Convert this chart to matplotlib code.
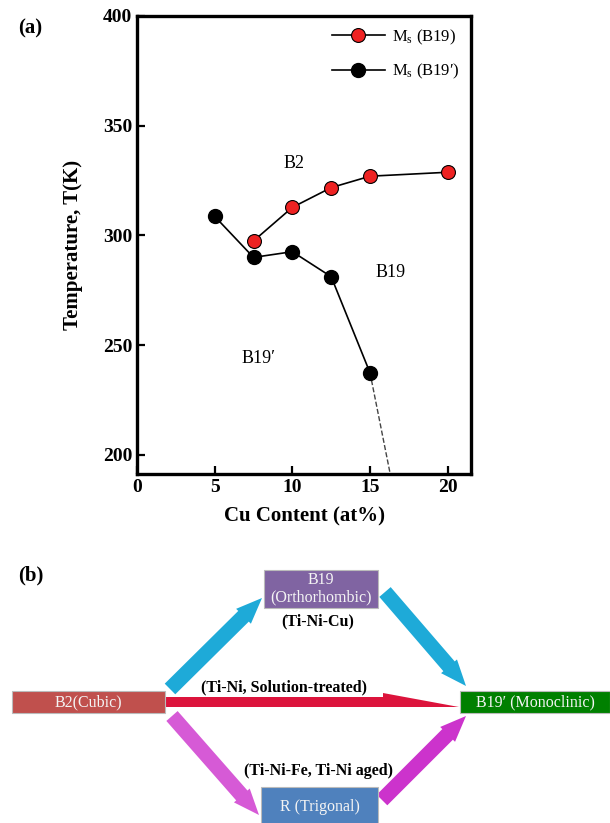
import numpy as np
import matplotlib
matplotlib.use('Agg')
import matplotlib.pyplot as plt
from matplotlib.patches import FancyArrow, Rectangle

plt.rcParams['font.family'] = ['Liberation Serif', 'DejaVu Serif']
plt.rcParams['mathtext.default'] = 'regular'

# (a) phase diagram data
cu_b19 = [7.5, 10, 12.5, 15, 20]
ms_b19 = [297.5, 312.8, 321.8, 327.0, 328.8]
cu_b19p = [5, 7.5, 10, 12.5, 15]
ms_b19p = [308.7, 290.0, 292.6, 281.2, 237.4]
cu_ext = [15, 16.3]
ms_ext = [237.4, 191.3]
x_ticks = [0, 5, 10, 15, 20]
y_ticks = [200, 250, 300, 350, 400]

# (b) transformation paths
box_labels = ['B2(Cubic)', 'B19\n(Orthorhombic)', 'B19\u2032 (Monoclinic)', 'R (Trigonal)']
path_labels = ['(Ti-Ni-Cu)', '(Ti-Ni, Solution-treated)', '(Ti-Ni-Fe, Ti-Ni aged)']

W, H = 610, 823
fig = plt.figure(figsize=(W / 100, H / 100), dpi=100)

# ---- panel (a)
ax = fig.add_axes([137 / W, (H - 474) / H, (471 - 137) / W, (474 - 16) / H])
ax.plot(cu_b19p, ms_b19p, '-o', color='black', lw=1.2, ms=10,
        mfc='black', mec='black', label='M$_{s}$ (B19\u2032)', zorder=3)
ax.plot(cu_b19, ms_b19, '-o', color='black', lw=1.2, ms=10,
        mfc='#EE2222', mec='black', mew=0.8, label='M$_{s}$ (B19)', zorder=4)
ax.plot(cu_ext, ms_ext, '--', color='#444444', lw=1.0, zorder=2)

ax.set_xlim(0, 21.5)
ax.set_ylim(191.3, 400)
ax.set_xticks(x_ticks)
ax.set_yticks(y_ticks)
for s in ['left', 'bottom', 'top', 'right']:
    ax.spines[s].set_linewidth(2.4)
ax.tick_params(direction='in', length=6, width=1.6, labelsize=14,
               top=False, right=False)
for lab in ax.get_xticklabels() + ax.get_yticklabels():
    lab.set_fontweight('bold')
ax.set_xlabel('Cu Content (at%)', fontsize=15, fontweight='bold', labelpad=8)
ax.set_ylabel('Temperature, T(K)', fontsize=15, fontweight='bold', labelpad=14)

ax.text(10.1, 333, 'B2', fontsize=13, ha='center', va='center')
ax.text(16.3, 283, 'B19', fontsize=13, ha='center', va='center')
ax.text(7.8, 244, 'B19\u2032', fontsize=13, ha='center', va='center')

h, l = ax.get_legend_handles_labels()
ax.legend(h[::-1], l[::-1], loc='upper right', frameon=False, fontsize=12,
          handlelength=3.2, handletextpad=0.4, labelspacing=0.9,
          borderaxespad=0.3)

fig.text(18 / W, 1 - 28 / H, '(a)', fontsize=15, fontweight='bold', va='center')

# ---- panel (b), drawn in pixel units
ax2 = fig.add_axes([0, 0, 1, (H - 540) / H])
ax2.set_xlim(0, W)
ax2.set_ylim(H, 540)
ax2.axis('off')

boxes = [(12, 691, 153, 22, '#C0504D'),
         (264, 570, 114, 38, '#8064A2'),
         (460, 691, 150, 22, '#008000'),
         (261, 787, 117, 40, '#4F81BD')]
for (bx, by, bw, bh, c), txt in zip(boxes, box_labels):
    ax2.add_patch(Rectangle((bx, by), bw, bh, facecolor=c, edgecolor='#BBBBBB',
                            lw=0.8, zorder=3))
    ax2.text(bx + bw / 2, by + bh / 2, txt, color='#F4F4F4', fontsize=11.5,
             ha='center', va='center', linespacing=1.1, zorder=4)


def arrow(p0, p1, color, width, hw, hl, shape='full'):
    ax2.add_patch(FancyArrow(p0[0], p0[1], p1[0] - p0[0], p1[1] - p0[1],
                             width=width, head_width=hw, head_length=hl,
                             length_includes_head=True, shape=shape,
                             color=color, lw=0, zorder=2))


arrow((170, 689), (262, 598), '#1EAAD8', 15, 21, 26)
arrow((385, 592), (466, 686), '#1EAAD8', 15, 21, 26)
arrow((166, 707), (459, 707), '#DC143C', 20, 28, 76, shape='left')
arrow((172, 716), (259, 815), '#D65AD6', 15, 21, 26)
arrow((382, 800), (466, 716), '#CC33CC', 15, 21, 26)

ax2.text(318, 621, path_labels[0], fontsize=11.5, fontweight='bold',
         ha='center', va='center')
ax2.text(284, 687, path_labels[1], fontsize=11.5, fontweight='bold',
         ha='center', va='center')
ax2.text(318, 771, path_labels[2], fontsize=11.5, fontweight='bold',
         ha='center', va='center')

fig.text(18 / W, 1 - 575 / H, '(b)', fontsize=15, fontweight='bold', va='center')

fig.savefig('out.png', dpi=100)
